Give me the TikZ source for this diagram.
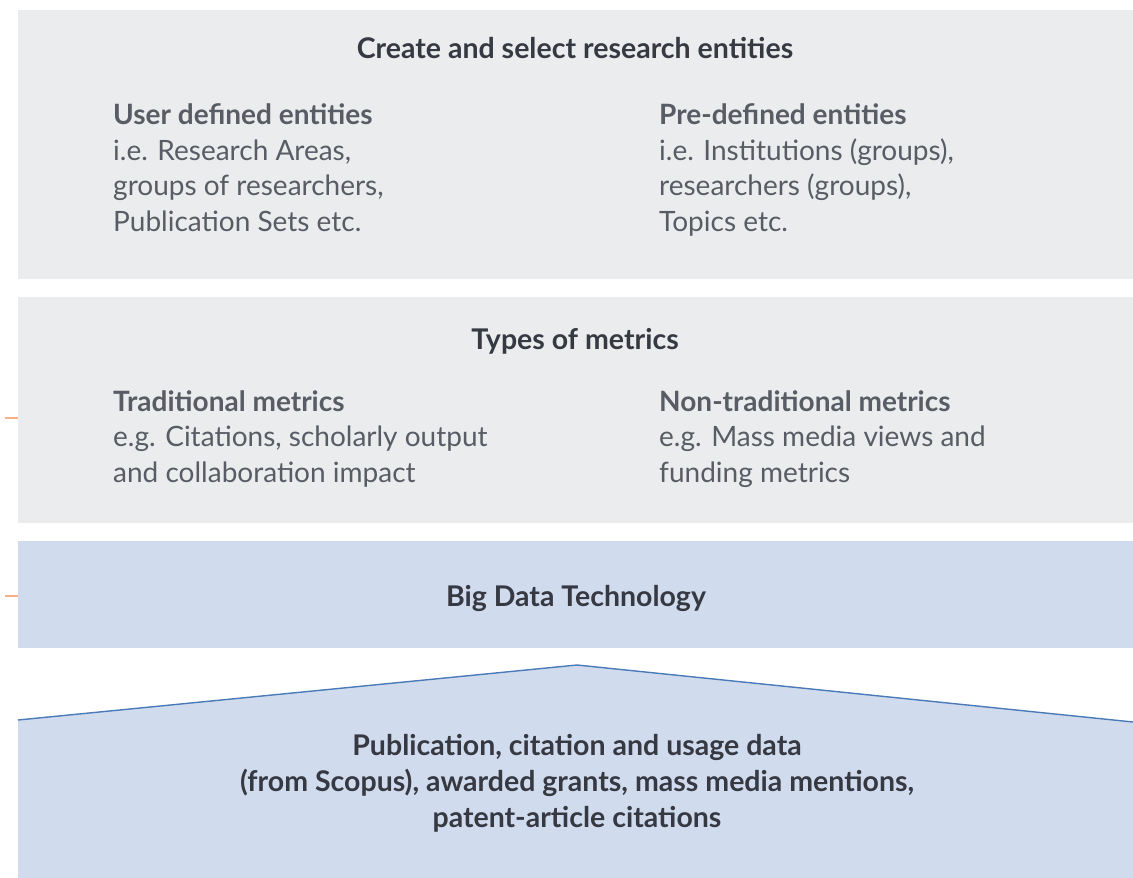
\documentclass[tikz,border=0pt]{standalone}
\usepackage{fontspec}
\setmainfont{Lato}
\definecolor{boxgrey}{HTML}{EBECEE}
\definecolor{boxblue}{HTML}{D0DCEE}
\definecolor{lineblue}{HTML}{4A7AB8}
\definecolor{tickorange}{HTML}{F7B088}
\definecolor{txtgrey}{HTML}{585C64}
\definecolor{txtdark}{HTML}{363842}
\tikzset{
  panel/.style={fill=boxgrey, draw=none},
  bluepanel/.style={fill=boxblue, draw=none},
  title/.style={font=\fontsize{28.5}{36}\selectfont\bfseries, text=txtdark, inner sep=0pt, anchor=base},
  coltext/.style={font=\fontsize{28}{35.5}\selectfont, text=txtgrey, inner sep=0pt, anchor=base west, align=left},
  tick/.style={draw=tickorange, line width=1.6pt},
}
\begin{document}
\begin{tikzpicture}[x=1pt,y=-1pt]
\useasboundingbox (0,0) rectangle (1133,878);
\fill[white] (0,0) rectangle (1133,878);
% panels
\fill[panel] (18,10) rectangle (1133,279);
\fill[panel] (18,297) rectangle (1133,523);
\fill[bluepanel] (18,541) rectangle (1133,648);
\filldraw[fill=boxblue, draw=none] (18,878) -- (18,720) -- (577,665) -- (1133,722) -- (1133,878) -- cycle;
\draw[lineblue, line width=1.4pt] (18,720) -- (577,665) -- (1133,722);
% ticks
\draw[tick] (5,418) -- (18,418);
\draw[tick] (5,596) -- (18,596);
% texts
\node[title] (t1) at (575,58) {Create and select research entities};
\node[coltext] (u) at (113,231) {\textbf{User defined entities}\\i.e. Research Areas,\\groups of researchers,\\Publication Sets etc.};
\node[coltext] (p) at (659,231) {\textbf{Pre-defined entities}\\i.e. Institutions (groups),\\researchers (groups),\\Topics etc.};
\node[title] (t2) at (575,349) {Types of metrics};
\node[coltext] (tr) at (113,482) {\textbf{Traditional metrics}\\e.g. Citations, scholarly output\\and collaboration impact};
\node[coltext] (nt) at (659,482) {\textbf{Non-traditional metrics}\\e.g. Mass media views and\\funding metrics};
\node[title] (t3) at (576,606) {Big Data Technology};
\node[title, align=center] (t4) at (577,827) {Publication, citation and usage data\\(from Scopus), awarded grants, mass media mentions,\\patent-article citations};
\end{tikzpicture}
\end{document}
